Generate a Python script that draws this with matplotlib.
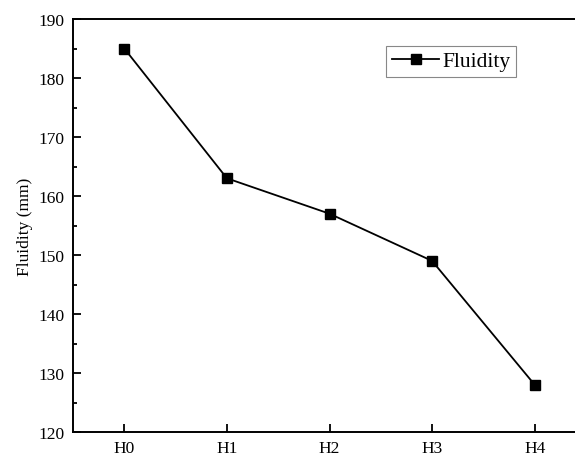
import matplotlib.pyplot as plt

groups = ['H0', 'H1', 'H2', 'H3', 'H4']
fluidity = [185, 163, 157, 149, 128]

plt.rcParams['font.family'] = ['Liberation Serif', 'DejaVu Serif']

fig = plt.figure(figsize=(5.75, 4.56), dpi=100)
ax = fig.add_axes([73 / 575, 23 / 456, 513 / 575, 413 / 456])

x = list(range(len(groups)))
ax.plot(x, fluidity, color='black', lw=1.3, marker='s', markersize=7, label='Fluidity')

ax.set_xlim(-0.5, 4.5)
ax.set_ylim(120, 190)
ax.set_xticks(x)
ax.set_xticklabels(groups)
ax.set_yticks(range(120, 191, 10))
ax.set_yticks(range(125, 190, 10), minor=True)
ax.tick_params(direction='in', labelsize=12.5, width=1.3, length=5.5, pad=6)
ax.tick_params(which='minor', direction='in', width=1.3, length=3)
ax.tick_params(axis='x', which='minor', bottom=False)
for s in ax.spines.values():
    s.set_linewidth(1.4)
ax.set_ylabel('Fluidity (mm)', fontsize=12.5, labelpad=4)

leg = ax.legend(loc='upper left', bbox_to_anchor=(0.611, 0.935), fontsize=15.5,
                fancybox=False, edgecolor='#888888', framealpha=1,
                handlelength=2.2, handletextpad=0.15, borderpad=0.25, borderaxespad=0)
leg.get_frame().set_linewidth(0.8)

fig.savefig('out.png', dpi=100)
